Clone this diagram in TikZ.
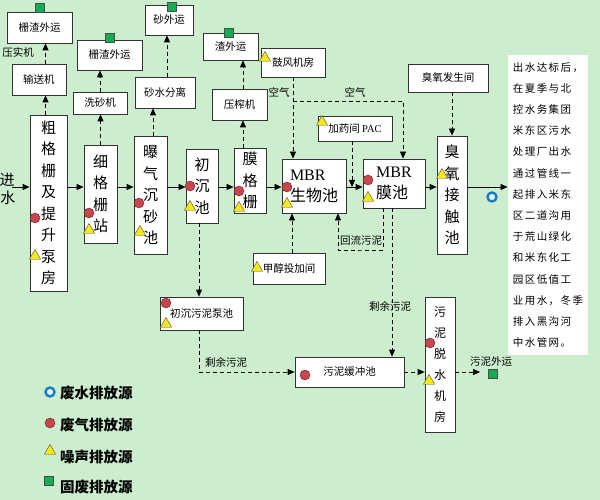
\documentclass[tikz,border=0pt]{standalone}
\usepackage{fontspec}
\setmainfont{Noto Sans CJK SC}
\newfontfamily\latfont{Liberation Serif}
\newfontfamily\notefont[LetterSpace=14]{Noto Sans CJK SC}
\usetikzlibrary{arrows.meta,shapes.geometric}
\definecolor{bggreen}{RGB}{204,238,206}
\definecolor{gasred}{RGB}{200,70,78}
\definecolor{noiseyellow}{RGB}{246,232,20}
\definecolor{wastegreen}{RGB}{22,172,84}
\definecolor{waterblue}{RGB}{28,122,192}

\begin{document}
\begin{tikzpicture}[x=1pt, y=-1pt,
            font=\fontsize{10.5}{13}\selectfont,
            box/.style={
                draw=black!80, fill=white, line width=0.8pt,
                align=center, inner sep=1pt
            },
            tall/.style={box, font=\fontsize{15}{21.5}\selectfont},
            lbl/.style={inner sep=1pt},
            flow/.style={-{Triangle[length=7pt,width=6pt]}, line width=0.8pt},
            dflow/.style={flow, dash pattern=on 4pt off 3pt},
            gas/.style={circle, draw=gasred!50!black, fill=gasred, minimum size=10pt, inner sep=0pt},
            noise/.style={regular polygon, regular polygon sides=3, draw=black!70, fill=noiseyellow,
                minimum size=13pt, inner sep=0pt},
            waste/.style={rectangle, draw=black!70, fill=wastegreen, minimum size=9pt, inner sep=0pt},
            water/.style={circle, draw=waterblue, line width=2.4pt, fill=cyan!12, minimum size=9pt, inner sep=0pt}
        ]

        \fill[bggreen] (0,0) rectangle (600,500);
        \useasboundingbox (0,0) rectangle (600,500);

        % --- Main line ---
        \node[tall, minimum width=37, minimum height=176] (cu) at (48.5,203)
        {粗\\格\\栅\\及\\提\\升\\泵\\房};
        \node[tall, minimum width=33, minimum height=98] (xi) at (100.5,194)
        {细\\格\\栅\\站};
        \node[tall, minimum width=33, minimum height=118] (bao) at (150.5,195)
        {曝\\气\\沉\\砂\\池};
        \node[tall, minimum width=32, minimum height=74] (chu) at (202,186)
        {初\\沉\\池};
        \node[tall, minimum width=32, minimum height=65] (mo) at (250,180.5)
        {膜\\格\\栅};
        \node[box, align=left, font=\fontsize{16}{21}\selectfont, minimum width=64, minimum height=54]
        (bio) at (314,186) {{\latfont MBR}\\生物池};
        \node[box, align=left, font=\fontsize{16}{21}\selectfont, minimum width=62, minimum height=49]
        (mbr) at (394,183.5) {{\latfont MBR}\\膜池};
        \node[tall, minimum width=30, minimum height=118] (oz) at (452,195)
        {臭\\氧\\接\\触\\池};

        % --- Side units ---
        \node[box, minimum width=65, minimum height=31] (zhaA) at (39.5,27.5) {栅渣外运};
        \node[box, minimum width=54, minimum height=31] (songA) at (39,79.5) {输送机};
        \node[lbl] (yashi) at (18,52) {压实机};
        \node[box, minimum width=65, minimum height=30] (zhaB) at (109.5,55) {栅渣外运};
        \node[box, minimum width=54, minimum height=22] (xisha) at (100,103) {洗砂机};
        \node[box, minimum width=48, minimum height=30] (shaout) at (169,20) {砂外运};
        \node[box, minimum width=60, minimum height=31] (shashui) at (165,92.5) {砂水分离};
        \node[box, minimum width=55, minimum height=27] (zhaC) at (230.5,46.5) {渣外运};
        \node[box, minimum width=55, minimum height=31] (yazha) at (239.5,104.5) {压榨机};
        \node[box, minimum width=64, minimum height=29] (gufeng) at (293,62.5) {鼓风机房};
        \node[box, minimum width=74, minimum height=25] (pac) at (355,128.5) {加药间 {\latfont PAC}};
        \node[box, minimum width=80, minimum height=28] (ozgen) at (448,78) {臭氧发生间};
        \node[box, minimum width=72, minimum height=31] (jiachun) at (289,268.5) {甲醇投加间};
        \node[box, minimum width=83, minimum height=33] (chuni) at (201.5,313.5) {初沉污泥泵池};
        \node[box, minimum width=109, minimum height=30] (huanchong) at (349.5,372) {污泥缓冲池};
        \node[box, font=\fontsize{12}{21}\selectfont, minimum width=30, minimum height=135]
        (tuoshui) at (440,364.5) {污\\泥\\脱\\水\\机\\房};

        % --- Note column ---
        \node[box, draw=none, align=left, minimum width=80, minimum height=300,
            font=\notefont\fontsize{10.5}{21.2}\selectfont] (note) at (548,205)
        {出水达标后，\\在夏季与北\\控水务集团\\米东区污水\\处理厂出水\\通过管线一\\起排入米东\\
         区二道沟用\\于荒山绿化\\和米东化工\\园区低值工\\业用水，冬季\\排入黑沟河\\中水管网。};

        % --- Main flow ---
        \node[lbl, font=\fontsize{15}{15}\selectfont] (jin) at (7,180) {进};
        \node[lbl, font=\fontsize{15}{15}\selectfont] (shui) at (8,198) {水};
        \coordinate (inlet) at (12,187);
        \draw[flow] (inlet) -- (inlet -| cu.west);
        \draw[flow] (cu.east |- inlet) -- (xi.west |- inlet);
        \draw[flow] (xi.east |- inlet) -- (bao.west |- inlet);
        \draw[flow] (bao.east |- inlet) -- (chu.west |- inlet);
        \draw[flow] (chu.east |- inlet) -- (mo.west |- inlet);
        \draw[flow] (mo.east |- inlet) -- (bio.west |- inlet);
        \draw[flow] (bio.east |- inlet) -- (mbr.west |- inlet);
        \draw[flow] (mbr.east |- inlet) -- (oz.west |- inlet);
        \draw[flow] (oz.east |- inlet) -- (note.west |- inlet);

        % --- Screenings and grit ---
        \draw[dflow] ([xshift=-3pt]cu.north) -- ([xshift=-3pt]cu.north |- songA.south);
        \draw[dflow] ([xshift=6.5pt]songA.north) -- ([xshift=6.5pt]songA.north |- zhaA.south);
        \draw[dflow] (xi.north) -- (xi.north |- xisha.south);
        \draw[dflow] (xisha.north) -- (xisha.north |- zhaB.south);
        \draw[dflow] ([xshift=2.5pt]bao.north) -- ([xshift=2.5pt]bao.north |- shashui.south);
        \draw[dflow] ([xshift=2pt]shashui.north) -- ([xshift=2pt]shashui.north |- shaout.south);
        \draw[dflow] ([xshift=-7pt]mo.north) -- ([xshift=-7pt]mo.north |- yazha.south);
        \draw[dflow] ([xshift=3.5pt]yazha.north) -- ([xshift=3.5pt]yazha.north |- zhaC.south);

        % --- Air, dosing, ozone ---
        \coordinate (airsplit) at (293,101);
        \draw[dflow] (gufeng.south) -- (gufeng.south |- bio.north);
        \draw[dflow] (airsplit) -| ([xshift=9pt]mbr.north);
        \node[lbl] (air1) at (279,92) {空气};
        \node[lbl] (air2) at (355,92) {空气};
        \draw[dflow] ([xshift=-3pt]pac.south) -- ([xshift=-3pt]pac.south |- inlet);
        \draw[dflow] (oz.north |- ozgen.south) -- (oz.north);
        \draw[dflow] ([xshift=3pt]jiachun.north) -- ([xshift=3pt]jiachun.north |- bio.south);

        % --- Sludge ---
        \coordinate (reflux) at (360,250);
        \draw[dflow] ([xshift=-11pt]mbr.south) |- (reflux) -| ([xshift=24pt]bio.south);
        \node[lbl] (refluxlbl) at (361,241) {回流污泥};
        \draw[dflow] ([xshift=-2pt]mbr.south) -- ([xshift=-2pt]mbr.south |- huanchong.north);
        \node[lbl] (excess1) at (390,306) {剩余污泥};
        \draw[dflow] ([xshift=-3pt]chu.south) -- ([xshift=-3pt]chu.south |- chuni.north);
        \draw[dflow] ([xshift=-2.5pt]chuni.south) |- (huanchong.west);
        \node[lbl] (excess2) at (226,362) {剩余污泥};
        \draw[dflow] (huanchong.east) -- (huanchong.east -| tuoshui.west);
        \coordinate (sludgeout) at (480,372);
        \draw[dflow] (tuoshui.east |- sludgeout) -- (sludgeout);
        \node[lbl] (sludgelbl) at (491,362) {污泥外运};

        % --- Emission marks ---
        \foreach \p [count=\i] in {(35,218),(89,213),(139,203),(190,186),(239,191),
            (287,187),(368,180),(166,303),(305,375),(430,343)}
            \node[gas] (gas\i) at \p {};
        \foreach \p [count=\i] in {(35,256),(89,230),(140,232),(190,207),(239,208),
            (287,204),(368,198),(442,175),(265,58),(322,122),(257,268),(166,324),(429,381)}
            \node[noise] (noise\i) at \p {};
        \foreach \p [count=\i] in {(40,8),(110,38),(172,7),(229,33),(493,374)}
            \node[waste] (waste\i) at \p {};
        \node[water] (water1) at (492,197) {};

        % --- Legend ---
        \node[water] (legw) at (50,392) {};
        \node[gas] (legg) at (50,423) {};
        \node[noise] (legn) at (50,451) {};
        \node[waste] (legs) at (49,481) {};
        \node[lbl, anchor=west, font=\fontsize{14.5}{15}\bfseries] (legwt) at (59,393) {废水排放源};
        \node[lbl, anchor=west, font=\fontsize{14.5}{15}\bfseries] (leggt) at (59,425) {废气排放源};
        \node[lbl, anchor=west, font=\fontsize{14.5}{15}\bfseries] (legnt) at (59,457) {噪声排放源};
        \node[lbl, anchor=west, font=\fontsize{14.5}{15}\bfseries] (legst) at (59,487) {固废排放源};

    \end{tikzpicture}
\end{document}
